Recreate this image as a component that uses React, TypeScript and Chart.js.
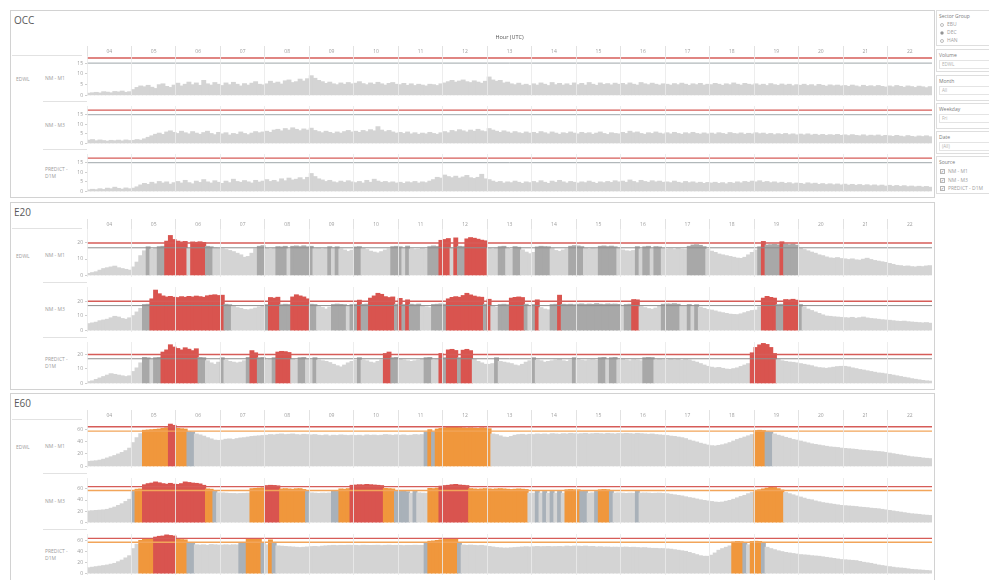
import React, { useEffect, useRef } from "react";
import { Chart, registerables } from "chart.js";

Chart.register(...registerables);

const FONT = '"Open Sans", "DejaVu Sans", sans-serif';

// ---------- categories / labels ----------
const HOURS = ["04","05","06","07","08","09","10","11","12","13","14","15","16","17","18","19","20","21","22"];
const FIRST_HOUR = 4;
const SAMPLES_PER_HOUR = 12; // 5-minute samples
const HOUR_AXIS_TITLE = "Hour (UTC)";
const VOLUME_LABEL = "EDWL";
const ROW_LABELS = [["NM - M1"], ["NM - M3"], ["PREDICT -", "D1M"]];

const SECTOR_GROUPS = ["EBU", "DEC", "HAN"];
const SELECTED_SECTOR = "DEC";
const SOURCES = ["NM - M1", "NM - M3", "PREDICT - D1M"];
const FILTERS = [
  { title: "Volume", value: "EDWL" },
  { title: "Month", value: "All" },
  { title: "Weekday", value: "Fri" },
  { title: "Date", value: "(All)" },
];

// ---------- ticks & thresholds ----------
const OCC_TICKS = [0, 5, 10, 15];
const E20_TICKS = [0, 10, 20];
const E60_TICKS = [0, 20, 40, 60];

const OCC_RED = 17.4;
const OCC_REF = 15;
const E20_RED = 20;
const E20_REF = 17;
const E60_RED = 64;
const E60_ORANGE = 57;
const E60_DARK = 54;

// ---------- series (5-minute values, 04:00 - 23:00) ----------
const OCC_M1 = [
  0.8,1,1.2,0.9,1.5,1.3,1,1.6,1.4,1.8,1.2,1.5,
  2.5,3.5,4.2,3.8,4.5,3.6,3,4.8,5.2,4,3.5,4.6,
  5.5,4.2,5,6,4.8,5.6,4.5,6.8,5.2,4.6,5.8,5,
  4.4,5.6,4.8,5.9,5,4.2,5.3,4.6,5.5,6.2,5,4.7,
  5.2,6.4,5.5,6,5.1,6.6,7,5.8,6.2,7.4,6.5,7.6,
  9,7.8,6.8,6.2,5.4,6,5.2,4.8,5.6,5,5.8,5.2,
  5.5,6.2,5.3,4.8,5.6,5,5.9,5.2,4.6,5.4,5.8,5,
  4.8,5.4,4.5,5.2,4.4,5,4.6,4.2,5,4.8,4.4,5.2,
  5.6,6.2,6.8,6,6.5,7,6.2,5.8,6.6,6,5.5,6.4,
  8.4,7,6.4,6.8,5.6,6,5.2,4.8,5.5,4.6,5,4.4,
  5.2,4.6,5.6,5,4.4,5.8,4.8,5.4,4.6,5.2,4.5,5.6,
  4.8,5.4,4.6,5.8,5,4.5,5.6,4.9,5.3,4.7,5.5,5,
  5.4,4.8,5.6,5,4.6,5.8,5.2,4.8,5.5,5,4.6,5.2,
  5,4.6,5.3,4.8,5.5,5,4.5,5.2,4.8,5.4,4.6,5,
  4.8,5.4,5,4.5,5.2,4.8,5.6,5,4.6,5.4,5,4.7,
  5.2,4.6,5,4.4,5.3,4.8,4.5,5.1,4.6,5,4.3,4.8,
  4.5,5,4.4,4.8,4.2,4.9,4.5,4.1,4.7,4.3,4.6,4.2,
  4.4,4,4.6,4.2,3.8,4.5,4,4.3,3.9,4.4,4,3.7,
  4.2,3.8,4.4,4,3.6,4.2,3.9,3.5,4.1,3.8,3.4,3.9,
];
const OCC_M3 = [
  1.5,1.8,1.2,1.6,1.3,1,1.4,1.2,1.5,1.1,1.6,1.3,
  1.4,1.8,1.5,2.2,3,3.8,4.6,5.2,4.5,5.8,6.4,5.6,
  5,6.2,5.4,4.8,6,5.2,4.6,5.5,6.2,5,4.4,5.6,
  4.8,5.4,4.2,5,4.6,5.8,5,4.4,5.2,6,5.4,5.8,
  6.2,5.6,6.8,7.2,6.4,7.6,6.8,8,7.2,6.5,7.4,6.8,
  7.8,6.6,6,5.4,6.2,5.6,5,5.8,5.2,6,6.6,5.8,
  6.2,5.6,6.6,6,7,6.4,8.6,6.8,6,6.6,5.8,5.2,
  5.6,5,5.8,4.8,5.4,4.6,5.2,4.8,5.6,5,4.6,5.4,
  6,5.4,6.6,6,7,6.4,5.8,6.8,6.2,7.2,6.4,6,
  7.6,6.8,6.2,5.6,6.4,5.8,5.2,6,5.4,5,5.8,5.2,
  5.6,5,6,5.4,4.8,5.8,5.2,4.6,5.4,5,5.8,5.2,
  4.8,5.6,5,5.4,4.6,5.2,5.8,5,4.5,5.4,5,4.8,
  5.6,5,6.2,5.4,5.8,5,4.6,5.4,5,5.8,5.2,4.8,
  5.4,4.8,5.6,5,4.6,5.4,4.9,5.6,5,4.7,5.3,4.8,
  5.2,4.7,5.4,5,4.6,5.5,5,4.8,5.3,4.6,5.1,4.8,
  5.4,4.9,5.2,4.6,5,4.4,4.9,4.5,5,4.4,4.8,4.3,
  4.7,4.3,4.8,4.2,4.6,4.1,4.5,4,4.4,4.1,4.5,4,
  4.3,3.9,4.4,4,3.8,4.3,3.7,4.1,3.8,4.2,3.6,4,
  3.8,3.5,4,3.6,3.3,3.9,3.5,3.2,3.7,3.4,3.8,3.3,
];
const OCC_PRED = [
  0.6,0.9,0.7,1.2,0.8,1.5,1.2,2,1.4,1,1.6,1.2,
  1.5,2.2,3.2,4,3.5,4.6,3.8,5,4.2,4.8,3.6,4.4,
  5,4.2,5.6,4.4,3.8,5.2,4.5,6,4.8,4.2,5.4,4.6,
  4,5.2,4.4,6.2,5,4.6,5.5,4.8,4.2,5.6,4.7,5.2,
  6,5,5.6,4.8,6.4,5.4,6.8,5.8,6.2,7,6,7.2,
  9.2,7.6,6.4,5.8,5,5.6,4.8,4.4,5.2,4.6,5.4,4.8,
  4.4,5,4.2,5.6,4.6,6.2,5.2,4.6,5,4.4,4.8,4.2,
  4.6,4,4.8,4.4,5,4.2,4.8,4.4,5.2,6,7.2,6.8,
  8.4,7.6,7,7.8,6.8,7.4,8.2,7,6.6,7.2,8.8,6.4,
  6,5.2,4.6,5,4.2,4.8,4.4,5.2,4.6,4,4.8,4.4,
  5,4.4,5.4,4.6,4,5.2,4.6,5.6,4.8,4.2,5,4.6,
  4.2,4.8,4.4,5.2,4.6,4,4.8,4.4,5,4.5,5.4,4.8,
  5.2,4.6,5.8,5,4.4,5.6,5,4.6,5.4,4.8,5.2,4.6,
  4.8,4.4,5.2,4.6,4.2,5,4.4,4.8,4.2,4.6,4,4.5,
  4.2,4.6,4,4.4,3.8,4.5,4.1,4.8,4.3,5,4.6,5.2,
  4.8,5.4,4.6,5,4.4,4.8,4.2,4.6,4,4.4,3.8,4.2,
  4,3.6,4.3,3.8,4.1,3.5,3.9,3.4,3.8,3.3,3.7,3.2,
  3.6,3.1,3.5,3,3.4,2.9,3.3,2.8,3.2,2.7,3.1,2.6,
  3,2.5,2.9,2.4,2.8,2.3,2.6,2.2,2.5,2.1,2.4,2,
];

const E20_M1 = [
  1,1.5,2,3,4,4.5,5,5.5,4.5,4,3.5,3,
  5,8,12,15,17.5,16,16.5,17.6,17.8,21,24.5,22,
  21,20.5,20.8,16.5,20.5,20.3,20.6,20.2,17.8,17.5,16.8,16.5,
  16.2,15.8,15.2,14.5,13.5,12.5,11,11.5,13.5,16.3,17.8,18.2,
  16.5,16.2,16.6,17.6,17.4,17.8,16.3,17.8,18,17.6,18.1,17.5,
  17.8,16.4,16.6,16.2,16.5,17.6,16.8,17.5,16.2,15.5,14.6,15.4,
  17.4,17.6,16.5,15.8,14.8,14.2,13.7,14.5,15.5,16.2,17.6,17.8,
  17.5,16.8,17.9,16.2,15.8,16,16.4,16.1,17.6,18,17.7,21.5,
  22,22.6,16.8,23,17.8,17.6,22.4,23.2,22.8,22.2,21.6,21.2,
  16.5,16.2,16.6,17.6,17.8,16.4,16,17.6,17.2,15.6,14.2,13.2,
  14,17.4,17.8,17.6,17.5,16.4,15.2,14.6,15.5,16.2,17.8,18.2,
  18,17.6,16.5,16.2,16.6,16.4,17.8,18,17.6,17.9,17.5,16.8,
  15.5,15,14.8,15.2,17.6,16.2,17.5,17.8,16.4,17.6,17.4,16.5,
  16,16.2,15.8,16.4,16,15.8,17.8,18.6,18.8,18.4,17.6,16,
  14.8,14,13,12.5,12,11.5,11,10.5,10.3,11,12.5,14,
  15.5,17.5,20.8,18.6,18.8,19,18.7,20.6,19.2,18.8,19.2,18.5,
  16.5,15.8,15,14.2,13.5,12.5,12,11.2,10.6,10.4,10.8,10.2,
  10,9.6,10,9.4,9.2,9.8,10.4,9.6,9,8.6,8.2,7.8,
  7.2,6.6,6,5.8,5.4,5.6,5.2,5,5.4,5.2,5.6,5.8,
];
const E20_M3 = [
  4.5,5,5.5,6.5,7,7.5,8.5,9.5,9,8,7.5,8.5,
  10,12.5,15,17.6,17.8,21.5,27.5,25,23.5,22.8,23.2,22.6,
  22.4,23,22.6,23.2,22.8,23.4,23,22.6,23.6,24,24.3,23.8,
  24,17.8,17.5,16.5,15.5,15,14.2,14,14.5,15.2,16,16.5,
  17.6,22.4,22,22.6,17.5,17.8,17.6,22.8,24.3,23.5,22.8,21.5,
  17.8,17.6,16.2,15.6,14.5,15.8,17.6,17.9,17.7,17.5,16.8,17.6,
  17.8,20.6,17.7,17.9,22,23.5,25.3,24.6,23,22.4,22.8,17.8,
  21.8,17.6,20.8,17.8,17.5,17.9,16.5,16,15.5,17.6,17.8,18,
  17.8,21.5,22.5,23,22.6,23.8,25.3,24.2,23.4,22.8,22.6,17.8,
  21.2,16.5,15.8,17.6,17.8,17.5,22,22.5,22.8,22.4,17.8,16.5,
  17.6,20.8,15.5,14.5,14,17.6,17.8,24,17.8,17.6,17.8,17.5,
  17.8,18,17.6,17.9,17.7,18.2,17.8,17.6,18,17.8,17.9,17.7,
  16.5,17.6,17.8,21,20.8,16.2,15.5,14.8,14.4,15.2,16.5,17.8,
  18,17.9,18.2,17.8,16.5,16.4,17.6,16.4,17.5,15.8,15,14.2,
  13.8,13.2,12.5,12,11.5,11,10.8,10.7,11.2,12,12.8,13.5,
  13.8,16,22,23.2,22.5,22,17.6,17.8,21,20.8,21.2,20.6,
  17.6,16,14.5,13.5,12.5,11.5,10.5,9.7,9.5,9.2,9,8.8,
  8.6,8.4,8.8,8.2,8.6,9,8.4,8,7.8,7.5,7.2,7,
  6.8,6.5,6.2,6,6.2,5.8,5.6,5.4,5.2,5,5.2,4.8,
];
const E20_PRED = [
  1,1.5,2.5,3.5,4.5,5.5,6.5,6,5.5,5,4.5,5,
  8,10.5,14,17.8,17.5,16.5,17.6,17.8,21.5,23,26.6,25,
  24,23,24.5,23.5,22.5,23.8,17.8,17.6,15.5,14,13,14.5,
  17.6,16,15,14.5,14,14.5,15.5,17.8,22.5,21,17.6,17.8,
  16.2,16.4,17.6,21.5,22,21.8,21.2,16.5,16,17.6,17.8,16.5,
  16.2,17.6,16,15.5,15,14.2,13,12,11.2,12.5,14,15,
  15.8,17.6,16,15.5,14.5,14,15,16,20.5,21.5,17.6,17.8,
  16.4,16,15.5,15,15.5,16,16.5,17.6,17.8,16.2,16.5,20.5,
  17.6,23,23.4,22.6,17.6,22.8,23.4,22.5,16.5,15,14,13,
  13,13.5,17.6,15,14.5,14,13.5,12.5,12,13,14.5,15.5,
  17.6,16,15.5,14.5,15,15.5,16,16.5,15.5,15,16,17.6,
  16.2,15.8,15.5,16,16.2,15.8,17.6,17.8,16.5,17.6,17.8,16.2,
  16.5,16,15.5,16.2,16,15.5,17.6,17.8,17.7,16.2,16.5,16.2,
  16,16.5,16.2,16.4,15.8,16.3,16,15.2,14.5,13.5,12.5,11.6,
  11,10.5,10.8,10.2,9.7,9.5,10,10.5,11.5,12.5,13.5,21,
  24.7,26.5,27.5,26.8,24.7,20.5,16.3,15.5,15,14.6,14.4,14,
  13.5,13,12.5,12,11.2,10.7,10.5,10.2,10.6,11,11.4,11.6,
  11.6,11.2,10.5,10,9.4,9,8.5,8,7.5,7,6.8,6.4,
  6,5.5,5,4.5,4,3.6,3,2.6,2.2,1.8,1.5,1.3,
];

const E60_M1 = [
  7.5,8,8.5,9.5,11,13,15,17,19.5,22,25,29,
  38,46,52.5,58,58.5,59,59.5,60,61,62,68,66,
  61,60.5,60,55.5,55,52,50.5,48.5,46,44,42,41.5,
  42,43.5,44,43,44.5,45.5,46,47,48,48.5,49,49.5,
  50,51,50.5,51.5,52,51,51.5,52,51,50.5,51.5,51,
  50.5,51,50,49.5,50.5,49,50,49.5,50.5,50,49.5,50,
  49.5,50,49,50.5,49.8,50.2,49.5,50,51,50.5,49.8,50.6,
  50,50.5,49.5,50,51,50.5,51,55,59,55.5,60,61,
  62,63,63.5,63,62.5,62,61.5,62,61.5,61,62,61.5,
  60.5,52,51,49,47,46.5,48,50,51,51.5,50.5,51.5,
  51,52,51.5,52,51,52.5,52,51.5,52.5,52,53,52.5,
  52,52.5,53,52,52.5,53,52.5,52,53,52.5,52,52.8,
  52.5,53,52.6,52,53,52.5,52,51.5,52,51,50.5,50,
  49.5,48.5,48,47,46,44.5,42,40.5,39,37,35.5,34,
  33,32.5,33.5,34.5,36,38,40.5,43,45,47,49,51,
  57.5,58,57.5,55.5,55,52,50,48.5,46.5,45,43,42,
  40.5,39,37.5,36,35,34,33,32,31,30.5,30,29,
  28.5,28,27.5,27,26,25.5,25,24.5,24,23.5,23,22,
  21,20,19,18,17,16,15,14.5,14,13,12.5,12,
];
const E60_M3 = [
  20,20.5,21,21.5,22,23,25,27,30,33,37,41,
  55,59,59.5,67,69,70,72,70.5,69,68,69.5,68,
  67.6,69,72,71,70,69.5,68.5,66,59.5,59,55,52.5,
  52.4,52,51.5,51.4,51,51.4,51.6,52,60,60.5,61,61.5,
  65.5,66,65.7,65,59.5,60,59.5,59,59.8,60,58.5,55,
  52.4,52,51.5,52,51.8,52.2,55.5,55,59.5,59,60,66,
  66.5,67,66.7,67.6,67,66.5,66,65.5,60.5,60,59.5,55,
  55,55.5,54.5,52,55,52.5,52,51.8,60.5,60,61,64.5,
  65.5,66,67,67.6,66.5,66,65.5,60,59.5,59,59.5,60,
  59.5,59,59.5,60,59.5,59,58.5,59,59.5,59,58.5,52,
  52,55,52.2,55,51.8,55,52,55,52,58,58.5,58,
  58,55,55,52,52.5,55,58,58.5,58,55,52,52.5,
  52,51.5,52,51.8,55,52,52.2,52,51.5,51.8,52,51.5,
  51,50,49,48,47,45.5,44,43,41.5,40,39,38,
  37,36,35.5,36,37.5,39,41,43.5,46,48,51,53,
  57,58,59.5,61,63,62,60,57.5,53,51,49,47,
  45,43,41,40,38,36.5,35,34,33,32,31,30,
  29.5,29,28.5,28,27,26.5,26,25,24.5,24,23,22,
  21,20,19,18,17,16,15,14.5,14,13,12.5,12,
];
const E60_PRED = [
  10,11,12,13,14,15,16.5,18,21,24,28,32,
  45,53,60,62,62.5,63,66,67.5,68,70,69,68,
  62,61.5,61,55,55,52,51.5,52,51,52.5,52,51.5,
  51.5,52,51.5,52,51.8,55,55.5,62.5,63,62.5,62,55,
  52,61,55,50,49.5,49,48.5,48,47.5,47,47.5,48,
  48.7,49,48.5,49.5,50,50.5,51,50.5,51,50.8,51.2,51,
  51,50.5,51.2,51,50.8,51,51.2,50.5,51,51.3,50.8,51,
  51,50.5,51,50.8,51.2,51,51,55,58.5,59,60,61,
  63,63.5,63.2,62.5,55,51.5,51,51.5,51,50.5,51,50,
  49,48,47,46.5,46,46,46.5,47,47.5,48,48.5,48,
  48.5,49,48.5,48.7,49,48.5,48.7,49,48.5,49.6,49,49.6,
  49.5,49,49.6,48.8,49,48,48.5,47.8,48,47.5,47.6,47.5,
  47.5,47.8,47.2,47.5,47,46.5,46.8,46,45.5,45.5,45,45,
  44.5,44,43,42,41,40,38,36,34,32,31,31,
  33,37,42,45,47.5,50,57,58,57.5,55,52,58,
  58.5,58,55.5,47.5,45,43,41,39.5,38,37,36,35,
  34,33.5,33,32,31.5,31,30,29,28,27,26,25,
  24.5,24,23.5,23,21.5,20,19,18,16.5,15,14,13,
  12,11,10,9.5,9,8,7,6.5,6,5.5,5,4.6,
];

// ---------- styles ----------
const LIGHT = "#d4d4d4";
const DARK_GREY = "#a8a8a8";
const DARK_BLUE_GREY = "#a9b1b9";
const RED = "#d9544f";
const ORANGE = "#f0973c";
const RED_LINE = "#d65c58";
const GRID = "rgba(234,234,234,0.85)";
const HEADER_GRID = "#e2e2e2";
const TEXT_LIGHT = "#9d9d9d";

const PLOT_CANVAS_LEFT = 60;
const PLOT_CANVAS_W = 872;
const Y_AXIS_W = 27;

const PANELS: any[] = [
  {
    name: "OCC", top: 10, bottom: 198, headerTop: 30, headerH: 26, title: HOUR_AXIS_TITLE, ppu: 2.4,
    ticks: OCC_TICKS,
    lines: [{ v: OCC_RED, c: RED_LINE, w: 1.4 }, { v: OCC_REF, c: "#9fa7aa", w: 1 }],
    color: (v: number) => (v >= OCC_REF ? DARK_GREY : LIGHT),
    series: [OCC_M1, OCC_M3, OCC_PRED],
    bands: [[56, 101, 100], [101, 149, 148], [149, 197, 196]],
  },
  {
    name: "E20", top: 202, bottom: 390, headerTop: 217, headerH: 12, title: null, ppu: 1.78,
    ticks: E20_TICKS,
    lines: [{ v: E20_RED, c: RED_LINE, w: 1.4 }, { v: E20_REF, c: "#8e8e8e", w: 1 }],
    color: (v: number) => (v >= E20_RED ? RED : v >= E20_REF ? DARK_GREY : LIGHT),
    series: [E20_M1, E20_M3, E20_PRED],
    bands: [[229, 282, 280], [282, 337, 335], [337, 389, 388]],
  },
  {
    name: "E60", top: 393, bottom: 600, headerTop: 408, headerH: 12, title: null, ppu: 0.68,
    ticks: E60_TICKS,
    lines: [{ v: E60_RED, c: RED_LINE, w: 1.4 }, { v: E60_ORANGE, c: "#f2a55a", w: 1.3 }],
    color: (v: number) => (v >= E60_RED ? RED : v >= E60_ORANGE ? ORANGE : v >= E60_DARK ? DARK_BLUE_GREY : LIGHT),
    series: [E60_M1, E60_M3, E60_PRED],
    bands: [[420, 473, 471], [473, 529, 527], [529, 580, 578]],
  },
];

function RowChart({ panel, idx }: { panel: any; idx: number }) {
  const ref = useRef<HTMLCanvasElement | null>(null);
  const [top, bottom, zero] = panel.bands[idx];
  const withHeader = idx === 0;
  const canvasTop = withHeader ? panel.headerTop : top;
  const h = bottom - canvasTop;

  useEffect(() => {
    const values: number[] = panel.series[idx];
    const yMin = -(bottom - zero) / panel.ppu;
    const yMax = (zero - top) / panel.ppu;
    const lastHour = FIRST_HOUR + HOURS.length;
    const bounds = [...HOURS.map((_, i) => FIRST_HOUR + i), lastHour];

    const datasets: any[] = panel.lines.map((l: any) => ({
      type: "line",
      data: [{ x: FIRST_HOUR, y: l.v }, { x: lastHour, y: l.v }],
      borderColor: l.c,
      borderWidth: l.w,
      pointRadius: 0,
      order: 0,
      xAxisID: "x",
      yAxisID: "y",
    }));
    datasets.push({
      type: "bar",
      data: values.map((v, i) => ({ x: FIRST_HOUR + (i + 0.5) / SAMPLES_PER_HOUR, y: v })),
      backgroundColor: values.map(panel.color),
      barPercentage: 1,
      categoryPercentage: 1,
      grouped: false,
      borderWidth: 0,
      inflateAmount: 0.6,
      order: 1,
      xAxisID: "x",
      yAxisID: "y",
    });

    const scales: any = {
      x: {
        type: "linear", axis: "x", position: "bottom", min: FIRST_HOUR, max: lastHour, offset: false,
        afterBuildTicks: (s: any) => { s.ticks = bounds.map((v) => ({ value: v })); },
        afterFit: (s: any) => { s.height = 0; },
        ticks: { display: false },
        grid: { offset: false, color: GRID, lineWidth: 1, drawTicks: false, z: 1 },
        border: { display: false },
      },
      y: {
        type: "linear", position: "left", min: yMin, max: yMax,
        afterBuildTicks: (s: any) => { s.ticks = panel.ticks.map((v: number) => ({ value: v })); },
        afterFit: (s: any) => { s.width = Y_AXIS_W; },
        ticks: { font: { size: 5, family: FONT }, color: TEXT_LIGHT, padding: 2, autoSkip: false },
        grid: { drawOnChartArea: false, drawTicks: true, tickLength: 2, color: "#cfcfcf" },
        border: { display: false },
      },
    };
    if (withHeader) {
      scales.xh = {
        type: "category", axis: "x", position: "top", labels: HOURS, offset: true,
        afterFit: (s: any) => { s.height = panel.headerH; },
        ticks: { font: { size: 5, family: FONT }, color: TEXT_LIGHT, padding: -8.5, autoSkip: false, maxRotation: 0 },
        grid: { offset: true, drawOnChartArea: false, drawTicks: true, tickLength: 10, color: HEADER_GRID },
        border: { display: false },
        title: panel.title
          ? { display: true, text: panel.title, font: { size: 5.5, family: FONT }, color: "#555", padding: { top: 4, bottom: 0 } }
          : { display: false },
      };
    }

    const chart = new Chart(ref.current as HTMLCanvasElement, {
      type: "bar",
      data: { datasets },
      options: {
        responsive: false,
        animation: false,
        devicePixelRatio: 1,
        events: [],
        layout: { padding: 0, autoPadding: false },
        plugins: { legend: { display: false }, tooltip: { enabled: false } },
        scales,
      } as any,
    });
    return () => chart.destroy();
  }, []);

  return (
    <canvas
      ref={ref}
      width={PLOT_CANVAS_W}
      height={h}
      style={{ position: "absolute", left: PLOT_CANVAS_LEFT, top: canvasTop, width: PLOT_CANVAS_W, height: h }}
    />
  );
}

function Panel({ panel }: { panel: any }) {
  const bands = panel.bands;
  return (
    <>
      <div
        style={{
          position: "absolute", left: 10, top: panel.top, width: 925, height: panel.bottom - panel.top,
          border: "1px solid #d2d2d2", boxSizing: "border-box", background: "#fff",
        }}
      />
      <div style={{ position: "absolute", left: 14, top: panel.top + 3, fontSize: 10, color: "#5a5a5a", lineHeight: "14px" }}>
        {panel.name}
      </div>
      <div style={{ position: "absolute", left: 12, top: bands[0][0] - 1, width: 70, height: 1, background: "#e2e2e2" }} />
      {bands.slice(0, 2).map((b: number[], i: number) => (
        <div key={"sep" + i} style={{ position: "absolute", left: 43, top: b[1], width: 44, height: 1, background: "#e2e2e2" }} />
      ))}
      <div
        style={{
          position: "absolute", left: 16, top: bands[0][0], height: bands[0][1] - bands[0][0],
          display: "flex", alignItems: "center", fontSize: 5, color: TEXT_LIGHT,
        }}
      >
        {VOLUME_LABEL}
      </div>
      {bands.map((b: number[], i: number) => (
        <div
          key={"lbl" + i}
          style={{
            position: "absolute", left: 45, top: b[0], height: b[1] - b[0], width: 34,
            display: "flex", flexDirection: "column", justifyContent: "center", fontSize: 5, color: TEXT_LIGHT, lineHeight: "7px",
          }}
        >
          {ROW_LABELS[i].map((t) => (
            <div key={t}>{t}</div>
          ))}
        </div>
      ))}
      {bands.map((_: any, i: number) => (
        <RowChart key={panel.name + i} panel={panel} idx={i} />
      ))}
    </>
  );
}

function Card({ top, height, title, children }: any) {
  return (
    <div
      style={{
        position: "absolute", left: 936, top, width: 60, height, border: "1px solid #dedede",
        boxSizing: "border-box", background: "#fff", fontSize: 5, color: "#7a7a7a",
      }}
    >
      <div style={{ position: "absolute", left: 2, top: 2, lineHeight: "7px" }}>{title}</div>
      {children}
    </div>
  );
}

function Sidebar() {
  const filterTops = [49, 75, 103, 131];
  const filterHeights = [23, 26, 26, 23];
  return (
    <>
      <Card top={10} height={36} title="Sector Group">
        {SECTOR_GROUPS.map((g, i) => (
          <div key={g} style={{ position: "absolute", left: 3, top: 10 + i * 8, display: "flex", alignItems: "center", lineHeight: "7px", color: "#a0a0a0" }}>
            <span
              style={{
                width: 4, height: 4, borderRadius: 3, border: "1px solid #bdbdbd", marginRight: 3,
                display: "inline-flex", alignItems: "center", justifyContent: "center", boxSizing: "border-box",
              }}
            >
              {g === SELECTED_SECTOR ? <span style={{ width: 2, height: 2, borderRadius: 1, background: "#777" }} /> : null}
            </span>
            {g}
          </div>
        ))}
      </Card>
      {FILTERS.map((f, i) => (
        <Card key={f.title} top={filterTops[i]} height={filterHeights[i]} title={f.title}>
          <div
            style={{
              position: "absolute", left: 2, top: 10, width: 60, height: 9, border: "1px solid #e4e4e4",
              boxSizing: "border-box", paddingLeft: 2, lineHeight: "7px", color: "#b0b0b0", fontSize: 4.5,
            }}
          >
            {f.value}
          </div>
        </Card>
      ))}
      <Card top={156} height={38} title="Source">
        {SOURCES.map((s, i) => (
          <div key={s} style={{ position: "absolute", left: 3, top: 11 + i * 8.5, display: "flex", alignItems: "center", lineHeight: "7px", color: "#a0a0a0" }}>
            <span
              style={{
                width: 5, height: 5, border: "1px solid #b5b5b5", marginRight: 3, boxSizing: "border-box",
                display: "inline-flex", alignItems: "center", justifyContent: "center", fontSize: 4, color: "#666",
              }}
            >
              ✓
            </span>
            {s}
          </div>
        ))}
      </Card>
    </>
  );
}

export default function App() {
  return (
    <div
      style={{
        position: "absolute", left: 0, top: 0, width: 989, height: 580, overflow: "hidden",
        background: "#fff", fontFamily: FONT,
      }}
    >
      {PANELS.map((p) => (
        <Panel key={p.name} panel={p} />
      ))}
      <Sidebar />
    </div>
  );
}
